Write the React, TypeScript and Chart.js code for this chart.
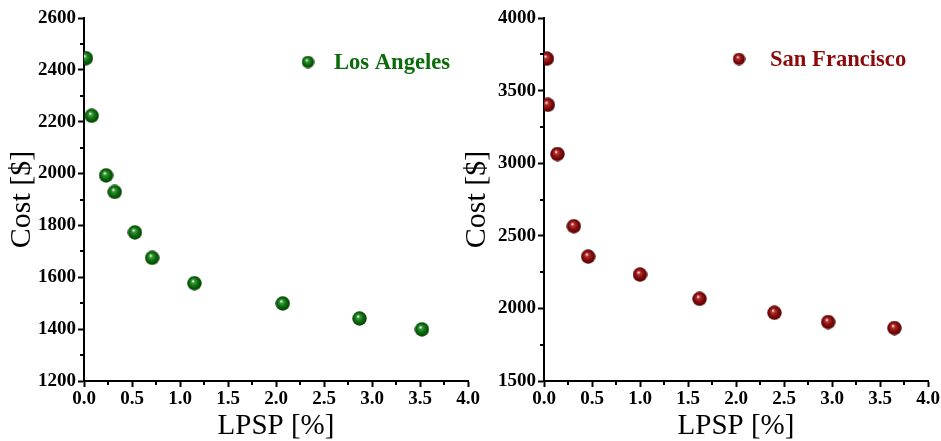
import React, { useEffect, useRef } from "react";
import { Chart, registerables } from "chart.js";

Chart.register(...registerables);

// ---- Data ----
const laLpsp = [0.02, 0.08, 0.23, 0.32, 0.53, 0.71, 1.15, 2.07, 2.87, 3.52];
const laCost = [2445, 2223, 1993, 1929, 1773, 1675, 1577, 1499, 1441, 1399];
const sfLpsp = [0.03, 0.04, 0.14, 0.31, 0.46, 1.0, 1.62, 2.4, 2.96, 3.65];
const sfCost = [3720, 3402, 3063, 2566, 2357, 2233, 2066, 1970, 1906, 1865];

const laLabel = "Los Angeles";
const sfLabel = "San Francisco";
const xTitle = "LPSP [%]";
const yTitle = "Cost [$]";

const SERIF = "'Liberation Serif', 'Times New Roman', serif";

function sphere(light: string, mid: string, dark: string, size: number) {
  const c = document.createElement("canvas");
  c.width = size;
  c.height = size;
  const ctx = c.getContext("2d")!;
  const r = size / 2;
  const g = ctx.createRadialGradient(r * 0.8, r * 0.7, r * 0.05, r, r, r);
  g.addColorStop(0, "#ffffff");
  g.addColorStop(0.18, light);
  g.addColorStop(0.55, mid);
  g.addColorStop(1, dark);
  ctx.fillStyle = g;
  ctx.beginPath();
  ctx.arc(r, r, r - 0.3, 0, Math.PI * 2);
  ctx.fill();
  return c;
}

const minorTicks = {
  id: "minorTicks",
  afterDraw(chart: any) {
    const ctx = chart.ctx;
    const area = chart.chartArea;
    const xs = chart.scales.x;
    const ys = chart.scales.y;
    ctx.save();
    ctx.strokeStyle = "#000";
    ctx.lineWidth = 2;
    for (let i = 0; i < xs.ticks.length - 1; i++) {
      const v = (xs.ticks[i].value + xs.ticks[i + 1].value) / 2;
      const px = Math.round(xs.getPixelForValue(v));
      ctx.beginPath();
      ctx.moveTo(px, area.bottom);
      ctx.lineTo(px, area.bottom + 4);
      ctx.stroke();
    }
    for (let i = 0; i < ys.ticks.length - 1; i++) {
      const v = (ys.ticks[i].value + ys.ticks[i + 1].value) / 2;
      const py = Math.round(ys.getPixelForValue(v));
      ctx.beginPath();
      ctx.moveTo(area.left, py);
      ctx.lineTo(area.left - 4, py);
      ctx.stroke();
    }
    ctx.restore();
  },
};

const sphereLegend = {
  id: "sphereLegend",
  afterDraw(chart: any, _args: any, opts: any) {
    const ctx = chart.ctx;
    const area = chart.chartArea;
    const ds = chart.data.datasets[0];
    const img = opts.image as HTMLCanvasElement;
    const cx = area.left + opts.dx;
    const cy = area.top + opts.dy;
    const s = opts.size;
    ctx.save();
    ctx.drawImage(img, cx - s / 2, cy - s / 2, s, s);
    ctx.fillStyle = opts.color;
    ctx.font = `bold ${opts.fontSize}px ${SERIF}`;
    ctx.textBaseline = "middle";
    ctx.textAlign = "left";
    ctx.fillText(ds.label, cx + opts.gap, cy + 1);
    ctx.restore();
  },
};

type Cfg = {
  xs: number[];
  ys: number[];
  label: string;
  yMin: number;
  yMax: number;
  yStep: number;
  img: HTMLCanvasElement;
  legImg: HTMLCanvasElement;
  textColor: string;
  yAxisWidth: number;
  padRight: number;
  titlePad: number;
  legDx: number;
  legDy: number;
  legGap: number;
};

function makeConfig(c: Cfg): any {
  return {
    type: "scatter",
    data: {
      datasets: [
        {
          label: c.label,
          data: c.xs.map((x, i) => ({ x, y: c.ys[i] })),
          pointStyle: c.img,
          pointRadius: 7,
        },
      ],
    },
    options: {
      animation: false,
      responsive: false,
      maintainAspectRatio: false,
      layout: { padding: { top: 18, right: c.padRight, left: 0, bottom: 0 } },
      plugins: {
        legend: { display: false },
        tooltip: { enabled: false },
        sphereLegend: {
          image: c.legImg,
          size: 13,
          dx: c.legDx,
          dy: c.legDy,
          gap: c.legGap,
          color: c.textColor,
          fontSize: 22.6,
        },
      },
      scales: {
        x: {
          type: "linear",
          min: 0,
          max: 4,
          afterFit: (s: any) => {
            s.height = 60;
          },
          ticks: {
            stepSize: 0.5,
            autoSkip: false,
            maxRotation: 0,
            padding: 1,
            color: "#000",
            font: { family: SERIF, size: 19, weight: "bold" },
            callback: (v: any) => Number(v).toFixed(1),
          },
          grid: {
            drawOnChartArea: false,
            drawTicks: true,
            tickLength: 6,
            tickColor: "#000",
            tickWidth: 2,
          },
          border: { display: true, color: "#000", width: 2 },
          title: {
            display: true,
            text: xTitle,
            color: "#000",
            padding: 0,
            font: { family: SERIF, size: 29, lineHeight: 1 },
          },
        },
        y: {
          type: "linear",
          min: c.yMin,
          max: c.yMax,
          afterFit: (s: any) => {
            s.width = c.yAxisWidth;
          },
          ticks: {
            stepSize: c.yStep,
            autoSkip: false,
            padding: 2,
            color: "#000",
            font: { family: SERIF, size: 19, weight: "bold" },
            callback: (v: any) => String(v),
          },
          grid: {
            drawOnChartArea: false,
            drawTicks: true,
            tickLength: 6,
            tickColor: "#000",
            tickWidth: 2,
          },
          border: { display: true, color: "#000", width: 2 },
          title: {
            display: true,
            text: yTitle,
            color: "#000",
            padding: { top: c.titlePad, bottom: 0 },
            font: { family: SERIF, size: 30, lineHeight: 1 },
          },
        },
      },
    },
    plugins: [minorTicks, sphereLegend],
  };
}

export default function App() {
  const leftRef = useRef<HTMLCanvasElement>(null);
  const rightRef = useRef<HTMLCanvasElement>(null);

  useEffect(() => {
    const greenImg = sphere("#3f9a3f", "#0c6e0c", "#023802", 15);
    const greenLeg = sphere("#3f9a3f", "#0c6e0c", "#023802", 13);
    const redImg = sphere("#b53434", "#8a0c0c", "#450202", 15);
    const redLeg = sphere("#b53434", "#8a0c0c", "#450202", 13);

    const left = new Chart(
      leftRef.current!,
      makeConfig({
        xs: laLpsp,
        ys: laCost,
        label: laLabel,
        yMin: 1200,
        yMax: 2600,
        yStep: 200,
        img: greenImg,
        legImg: greenLeg,
        textColor: "#0b6b0b",
        yAxisWidth: 84,
        padRight: 22,
        titlePad: 7,
        legDx: 224,
        legDy: 44,
        legGap: 26,
      })
    );
    const right = new Chart(
      rightRef.current!,
      makeConfig({
        xs: sfLpsp,
        ys: sfCost,
        label: sfLabel,
        yMin: 1500,
        yMax: 4000,
        yStep: 500,
        img: redImg,
        legImg: redLeg,
        textColor: "#8b0a0a",
        yAxisWidth: 94,
        padRight: 13,
        titlePad: 12,
        legDx: 195,
        legDy: 41,
        legGap: 31,
      })
    );
    return () => {
      left.destroy();
      right.destroy();
    };
  }, []);

  return (
    <div
      style={{
        position: "fixed",
        left: 0,
        top: 0,
        width: 941,
        height: 441,
        background: "#fff",
      }}
    >
      <canvas
        ref={leftRef}
        width={490}
        height={441}
        style={{ position: "absolute", left: 0, top: 0, width: 490, height: 441 }}
      />
      <canvas
        ref={rightRef}
        width={491}
        height={441}
        style={{ position: "absolute", left: 450, top: 0, width: 491, height: 441 }}
      />
    </div>
  );
}
